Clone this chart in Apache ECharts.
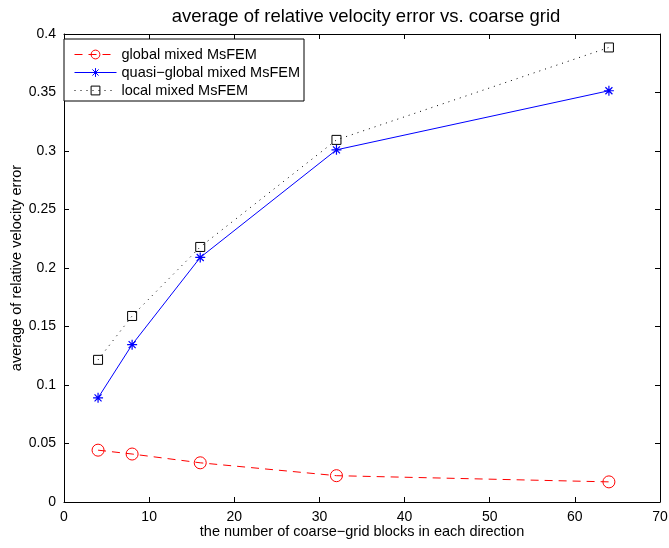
<!DOCTYPE html>
<html>
<head>
<meta charset="utf-8">
<script src="https://cdn.jsdelivr.net/npm/echarts@6/dist/echarts.min.js"></script>
<style>
  html, body { margin: 0; padding: 0; background: #fff; }
  #chart { width: 669px; height: 548px; }
</style>
</head>
<body>
<div id="chart"></div>
<script>
const blocks = [4, 8, 16, 32, 64];
const globalErr = [0.0443, 0.0410, 0.0335, 0.0225, 0.0172];
const quasiErr = [0.0890, 0.1345, 0.2090, 0.3010, 0.3515];
const localErr = [0.1215, 0.1590, 0.2180, 0.3095, 0.3885];
const seriesNames = ["global mixed MsFEM", "quasi\u2212global mixed MsFEM", "local mixed MsFEM"];

const starPath = "path://M0,5 L10,5 M5,0 L5,10 M1.5,1.5 L8.5,8.5 M8.5,1.5 L1.5,8.5";
const font = "Liberation Sans, Arial, sans-serif";
const clear = "rgba(0,0,0,0)";

const pairs = (ys) => blocks.map((x, i) => [x, ys[i]]);

const chart = echarts.init(document.getElementById("chart"), null, { renderer: "canvas" });

const axisCommon = {
  axisLine: { onZero: false, lineStyle: { color: "#000", width: 1 } },
  axisTick: { inside: true, length: 5, lineStyle: { color: "#000" } },
  splitLine: { show: false },
  axisLabel: { color: "#000", fontSize: 14, fontFamily: font },
};

chart.setOption({
  backgroundColor: "#fff",
  animation: false,
  title: {
    text: "average of relative velocity error vs. coarse grid",
    left: 361,
    textAlign: "center",
    top: 2,
    textStyle: { fontSize: 18.5, fontWeight: "normal", color: "#000", fontFamily: font },
  },
  grid: { left: 64, right: 9, top: 34, bottom: 46, outerBoundsMode: "none", containLabel: false },
  legend: {
    left: 64,
    top: 39,
    orient: "vertical",
    itemWidth: 42,
    itemHeight: 11,
    itemGap: 3,
    padding: [8, 4, 3, 10],
    borderColor: "#000",
    borderWidth: 1,
    backgroundColor: "#fff",
    lineStyle: { width: 1 },
    itemStyle: { borderWidth: 1 },
    textStyle: { fontSize: 14.5, color: "#000", fontFamily: font },
    data: seriesNames,
  },
  xAxis: [
    Object.assign({}, axisCommon, {
      type: "value", min: 0, max: 70, interval: 10, position: "bottom",
      name: "the number of coarse\u2212grid blocks in each direction",
      nameLocation: "middle", nameGap: 22, nameMoveOverlap: false,
      nameTextStyle: { fontSize: 14.5, color: "#000", fontFamily: font },
    }),
    Object.assign({}, axisCommon, {
      type: "value", min: 0, max: 70, interval: 10, position: "top",
      axisLabel: { show: false },
    }),
  ],
  yAxis: [
    Object.assign({}, axisCommon, {
      type: "value", min: 0, max: 0.4, interval: 0.05, position: "left",
      axisLabel: Object.assign({}, axisCommon.axisLabel, { formatter: (v) => String(+v.toFixed(2)) }),
      name: "average of relative velocity error",
      nameLocation: "middle", nameGap: 40, nameMoveOverlap: false,
      nameTextStyle: { fontSize: 14.5, color: "#000", fontFamily: font },
    }),
    Object.assign({}, axisCommon, {
      type: "value", min: 0, max: 0.4, interval: 0.05, position: "right",
      axisLabel: { show: false },
    }),
  ],
  series: [
    {
      name: seriesNames[0],
      type: "line",
      data: pairs(globalErr),
      symbol: "circle",
      symbolSize: 12,
      lineStyle: { color: "#ff0000", width: 1, type: [8, 6] },
      itemStyle: { color: clear, borderColor: "#ff0000", borderWidth: 1 },
    },
    {
      name: seriesNames[1],
      type: "line",
      data: pairs(quasiErr),
      symbol: starPath,
      symbolSize: 10,
      lineStyle: { color: "#0000ff", width: 1, type: "solid" },
      itemStyle: { color: "#0000ff", borderColor: "#0000ff", borderWidth: 1.2 },
    },
    {
      name: seriesNames[2],
      type: "line",
      data: pairs(localErr),
      symbol: "rect",
      symbolSize: 9,
      lineStyle: { color: "#000", width: 1, type: [1, 5] },
      itemStyle: { color: clear, borderColor: "#000", borderWidth: 1 },
    },
  ],
});
</script>
</body>
</html>
